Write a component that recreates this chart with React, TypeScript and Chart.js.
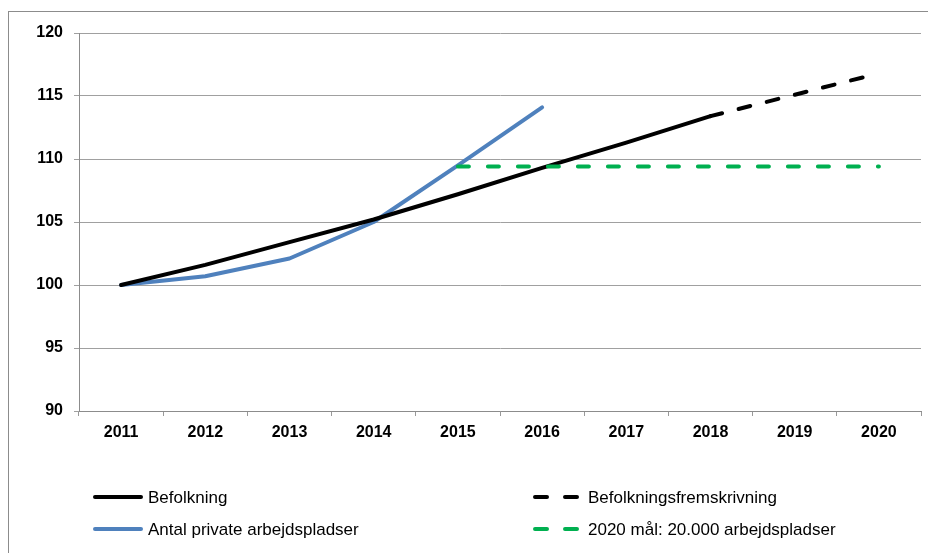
import React, { useEffect, useRef } from "react";
import { Chart, registerables } from "chart.js";

Chart.register(...registerables);

const years = ["2011", "2012", "2013", "2014", "2015", "2016", "2017", "2018", "2019", "2020"];
const befolkning = [100, 101.6, 103.4, 105.2, 107.2, 109.3, 111.3, 113.4, null, null];
const befolkningsfremskrivning = [null, null, null, null, null, null, null, 113.4, 115.1, 116.8];
const privateJobs = [100, 100.7, 102.1, 105.0, 109.5, 114.1, null, null, null, null];
const goal2020 = [null, null, null, null, 109.4, 109.4, 109.4, 109.4, 109.4, 109.4];

const labelBefolkning = "Befolkning";
const labelFremskrivning = "Befolkningsfremskrivning";
const labelPrivate = "Antal private arbejdspladser";
const labelGoal = "2020 mål: 20.000 arbejdspladser";

const BLUE = "#4f81bd";
const GREEN = "#00b050";
const BLACK = "#000000";
const FONT = "'Liberation Sans', Arial, sans-serif";

const legendItems = [
  { text: labelBefolkning, color: BLACK, dash: false, x: 93, y: 497 },
  { text: labelFremskrivning, color: BLACK, dash: true, x: 533, y: 497 },
  { text: labelPrivate, color: BLUE, dash: false, x: 93, y: 529 },
  { text: labelGoal, color: GREEN, dash: true, x: 533, y: 529 },
];

const framePlugin = {
  id: "frame",
  beforeDraw(chart: any) {
    const ctx = chart.ctx;
    ctx.save();
    ctx.fillStyle = "#ffffff";
    ctx.fillRect(0, 0, chart.width, chart.height);
    ctx.strokeStyle = "#8c8c8c";
    ctx.lineWidth = 1;
    ctx.strokeRect(8.5, 11.5, 2000, 2000);
    ctx.restore();
  },
  afterDraw(chart: any) {
    const ctx = chart.ctx;
    ctx.save();
    legendItems.forEach((it) => {
      const sampleW = it.dash ? 46 : 50;
      ctx.beginPath();
      ctx.strokeStyle = it.color;
      ctx.lineWidth = 4;
      ctx.lineCap = "round";
      ctx.setLineDash(it.dash ? [12, 18] : []);
      ctx.moveTo(it.x + 2, it.y);
      ctx.lineTo(it.x + sampleW - 2, it.y);
      ctx.stroke();
      ctx.setLineDash([]);
      ctx.fillStyle = "#000";
      ctx.font = `17px ${FONT}`;
      ctx.textBaseline = "middle";
      ctx.textAlign = "left";
      ctx.fillText(it.text, it.x + (it.dash ? 55 : 55), it.y + 1);
    });
    ctx.restore();
  },
};

export default function App() {
  const ref = useRef<HTMLCanvasElement | null>(null);
  useEffect(() => {
    if (!ref.current) return;
    const common = {
      pointRadius: 0,
      pointHoverRadius: 0,
      borderWidth: 4,
      tension: 0,
      fill: false,
      borderCapStyle: "round" as const,
      borderJoinStyle: "round" as const,
      spanGaps: false,
    };
    const chart = new Chart(ref.current, {
      type: "line",
      data: {
        labels: years,
        datasets: [
          { ...common, label: labelGoal, data: goal2020, borderColor: GREEN, backgroundColor: GREEN, borderDash: [11, 19] },
          { ...common, label: labelFremskrivning, data: befolkningsfremskrivning, borderColor: BLACK, backgroundColor: BLACK, borderDash: [12, 17] },
          { ...common, label: labelBefolkning, data: befolkning, borderColor: BLACK, backgroundColor: BLACK },
          { ...common, label: labelPrivate, data: privateJobs, borderColor: BLUE, backgroundColor: BLUE },
        ],
      },
      options: {
        animation: false,
        responsive: false,
        maintainAspectRatio: false,
        layout: { padding: { left: 0, top: 33, right: 7, bottom: 102 } },
        plugins: {
          legend: { display: false },
          tooltip: { enabled: false },
          title: { display: false },
        },
        scales: {
          x: {
            type: "category",
            offset: true,
            grid: { offset: true, drawOnChartArea: false, drawTicks: true, tickLength: 5, color: "#999999", lineWidth: 1 },
            border: { display: true, color: "#8c8c8c", width: 1 },
            ticks: { color: "#000", font: { family: FONT, size: 16, weight: "bold" }, padding: 7, maxRotation: 0, autoSkip: false },
            afterFit: (s: any) => { s.height = 40; },
          },
          y: {
            min: 90,
            max: 120,
            ticks: { stepSize: 5, color: "#000", font: { family: FONT, size: 16, weight: "bold" }, padding: 11 },
            grid: { color: "#a0a0a0", lineWidth: 1, tickLength: 5, drawTicks: true },
            border: { display: true, color: "#8c8c8c", width: 1 },
            afterFit: (s: any) => { s.width = 79; },
          },
        },
      },
      plugins: [framePlugin],
    });
    return () => chart.destroy();
  }, []);
  return (
    <div style={{ position: "fixed", left: 0, top: 0, width: 928, height: 553, background: "#fff" }}>
      <canvas ref={ref} width={928} height={553} style={{ display: "block" }} />
    </div>
  );
}
